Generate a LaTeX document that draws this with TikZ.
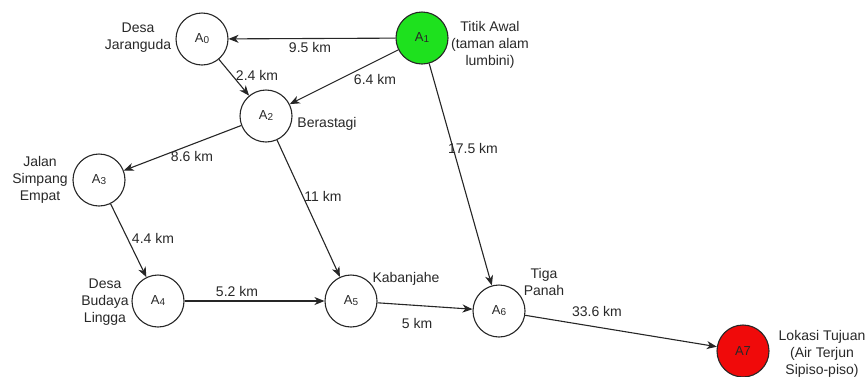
\documentclass[tikz,border=0pt]{standalone}
\usepackage{fontspec}
\setmainfont{Liberation Sans}
\usetikzlibrary{arrows.meta}
\definecolor{txt}{RGB}{40,40,40}
\definecolor{startgreen}{RGB}{30,225,30}
\definecolor{goalred}{RGB}{240,10,10}
\newcommand{\sub}[1]{\raisebox{-1pt}{\fontsize{10}{10}\selectfont #1}}
\tikzset{
  place/.style={circle, draw=black!85, line width=1.1pt, minimum size=52pt, inner sep=0pt,
    font=\fontsize{13}{13}\selectfont, text=txt},
  tag/.style={align=center, inner sep=0pt, text=txt, font=\fontsize{14}{17}\selectfont},
  road/.style={draw=black!85, line width=1.1pt, -{Stealth[length=10pt,width=8pt,inset=3pt]}},
}
\begin{document}
\begin{tikzpicture}[x=1pt,y=-1pt]
\useasboundingbox (0,0) rectangle (866,376);

% places
\node[place] (a0) at (202,39) {A\sub{0}};
\node[place, fill=startgreen] (a1) at (422,38) {A\sub{1}};
\node[place] (a2) at (266,116) {A\sub{2}};
\node[place] (a3) at (99,180) {A\sub{3}};
\node[place] (a4) at (158,301) {A\sub{4}};
\node[place] (a5) at (351,301) {A\sub{5}};
\node[place] (a6) at (499,311) {A\sub{6}};
\node[place, fill=goalred] (a7) at (743,351) {A7};

% place names
\node[tag] (n0) at (138,38) {Desa\\Jaranguda};
\node[tag] (n1) at (490,45) {Titik Awal\\(taman alam\\lumbini)};
\node[tag] (n2) at (327,124) {Berastagi};
\node[tag] (n3) at (40,180) {Jalan\\Simpang\\Empat};
\node[tag] (n4) at (105,302) {Desa\\Budaya\\Lingga};
\node[tag] (n5) at (406,279) {Kabanjahe};
\node[tag] (n6) at (544,282) {Tiga\\Panah};
\node[tag] (n7) at (822,354) {Lokasi Tujuan\\(Air Terjun\\Sipiso-piso)};

% roads
\draw[road] (a1) -- (a0);
\draw[road] (a1) -- (a2);
\draw[road] (a0) -- (a2);
\draw[road] (a2) -- (a3);
\draw[road] (a2) -- (a5);
\draw[road] (a3) -- (a4);
\draw[road] (a4) -- (a5);
\draw[road] (a5) -- (a6);
\draw[road] (a1) -- (a6);
\draw[road] (a6) -- (a7);

% distances
\node[tag] (d10) at (310,47) {9.5 km};
\node[tag] (d12) at (375,79) {6.4 km};
\node[tag] (d02) at (257,75) {2.4 km};
\node[tag] (d23) at (192,156) {8.6 km};
\node[tag] (d25) at (323,196) {11 km};
\node[tag] (d16) at (473,148) {17.5 km};
\node[tag] (d34) at (153,238) {4.4 km};
\node[tag] (d45) at (237,291) {5.2 km};
\node[tag] (d56) at (417,323) {5 km};
\node[tag] (d67) at (597,311) {33.6 km};
\end{tikzpicture}
\end{document}
